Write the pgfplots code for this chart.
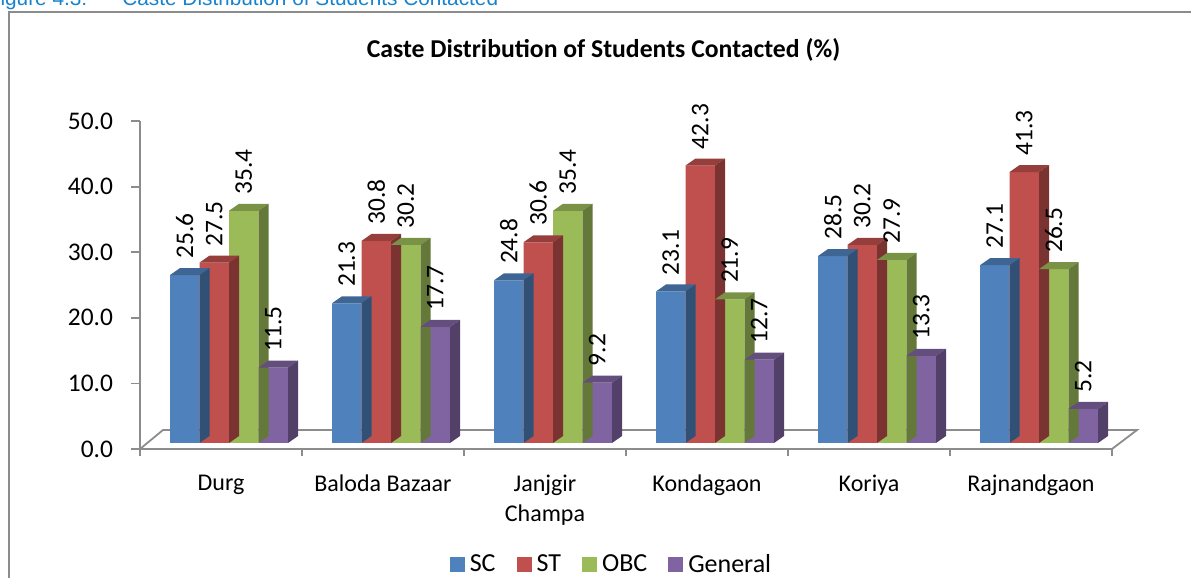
\documentclass[border=0pt]{standalone}
\usepackage{fontspec}
\setmainfont{Carlito}
\newfontfamily\arialfont{Liberation Sans}
\usepackage{pgfplots}
\pgfplotsset{compat=1.18}
\usepackage{pgfplotstable}

\definecolor{cSC}{HTML}{4F81BD}
\definecolor{cST}{HTML}{C0504D}
\definecolor{cOBC}{HTML}{9BBB59}
\definecolor{cGen}{HTML}{8064A2}
\definecolor{capblue}{RGB}{23,130,205}
\definecolor{axgray}{HTML}{8C8C8C}

\pgfplotstableread{
x SC ST OBC Gen
0 25.6 27.5 35.4 11.5
1 21.3 30.8 30.2 17.7
2 24.8 30.6 35.4 9.2
3 23.1 42.3 21.9 12.7
4 28.5 30.2 27.9 13.3
5 27.1 41.3 26.5 5.2
}\datatable

% top and side faces of a 3-D bar, drawn at the data point (top centre of the category)
\newcommand\declarebarmark[4]{%
  \pgfdeclareplotmark{#1}{%
    \pgfsetfillcolor{#3}%
    \pgfpathmoveto{\pgfpoint{#2-7.375bp}{0pt}}%
    \pgfpathlineto{\pgfpoint{#2+7.375bp}{0pt}}%
    \pgfpathlineto{\pgfpoint{#2+12.375bp}{3.5bp}}%
    \pgfpathlineto{\pgfpoint{#2-2.375bp}{3.5bp}}%
    \pgfpathclose
    \pgfusepath{fill}%
    \pgfsetfillcolor{#4}%
    \pgfpathmoveto{\pgfpoint{#2+7.375bp}{0pt}}%
    \pgfpathlineto{\pgfpoint{#2+12.375bp}{3.5bp}}%
    \pgfpathlineto{\pgfpoint{#2+12.375bp}{3.5bp-\barval*3.28bp}}%
    \pgfpathlineto{\pgfpoint{#2+7.375bp}{-\barval*3.28bp}}%
    \pgfpathclose
    \pgfusepath{fill}%
  }%
}
\declarebarmark{barSC}{-22.125bp}{cSC!78!black}{cSC!62!black}
\declarebarmark{barST}{-7.375bp}{cST!78!black}{cST!64!black}
\declarebarmark{barOBC}{7.375bp}{cOBC!78!black}{cOBC!64!black}
\declarebarmark{barGen}{22.125bp}{cGen!78!black}{cGen!64!black}

\begin{document}
\begin{tikzpicture}
\useasboundingbox (0,0) rectangle (595.5bp,289bp);
\clip (0,0) rectangle (595.5bp,289bp);
% caption above the frame
\node[anchor=base west, inner sep=0pt, text=capblue, font=\arialfont\fontsize{10.4bp}{12bp}\selectfont] at (-6.3bp,286.3bp) {Figure 4.3:};
\node[anchor=base west, inner sep=0pt, text=capblue, font=\arialfont\fontsize{10.4bp}{12bp}\selectfont] at (61bp,286.3bp) {Caste Distribution of Students Contacted};
% chart frame
\draw[axgray, line width=0.8bp] (4.4bp,-20bp) rectangle (620bp,283bp);
% title
\node[anchor=base, inner sep=0pt, font=\bfseries\fontsize{12.85bp}{15bp}\selectfont] at (301.75bp,260bp) {Caste Distribution of Students Contacted (\%)};

% front plane: axes, ticks, floor, legend
\begin{axis}[
  at={(70bp,64.5bp)}, anchor=south west,
  x=81bp, y=3.28bp,
  xmin=-0.5, xmax=5.5, ymin=0, ymax=50,
  axis x line*=bottom, axis y line*=left,
  axis line style={axgray, line width=0.9bp, -},
  tick style={axgray, line width=0.9bp},
  tick align=outside,
  major tick length=4.5bp, minor tick length=3.5bp,
  ytick={0,10,...,50},
  yticklabel={\fontsize{12.7bp}{15bp}\selectfont\pgfmathprintnumber[fixed,fixed zerofill,precision=1,assume math mode=true]{\tick}},
  /pgf/number format/assume math mode=true,
  y tick label style={font=\fontsize{12.7bp}{15bp}\selectfont, inner xsep=0pt, xshift=-8.8bp},
  xtick={0,...,5},
  major x tick style={draw=none},
  minor xtick={-0.5,0.5,...,5.5},
  xticklabels={Durg, Baloda Bazaar, {Janjgir\\Champa}, Kondagaon, Koriya, Rajnandgaon},
  x tick label style={font=\fontsize{12bp}{15bp}\selectfont, align=center, yshift=-5bp},
  clip=false,
  legend columns=4,
  legend image code/.code={\fill[#1] (0bp,-3.6bp) rectangle (7.5bp,3.9bp);},
  legend style={at={(0.4866,-0.3537)}, anchor=center, draw=none, fill=none,
    font=\fontsize{13bp}{15bp}\selectfont,
    /tikz/every even column/.append style={column sep=8bp},
    nodes={inner xsep=2.5bp, inner ysep=1bp}},
]
\draw[axgray, line width=0.9bp] (axis cs:-0.5,0) -- ++(11.5bp,9.5bp) -- ([shift={(12.5bp,9.5bp)}]axis cs:5.5,0) -- (axis cs:5.5,0);
\addlegendimage{fill=cSC, draw=none}
\addlegendentry{SC}
\addlegendimage{fill=cST, draw=none}
\addlegendentry{ST}
\addlegendimage{fill=cOBC, draw=none}
\addlegendentry{OBC}
\addlegendimage{fill=cGen, draw=none}
\addlegendentry{General}
\end{axis}

% bar plane (set back from the front plane)
\begin{axis}[
  at={(74bp,67.5bp)}, anchor=south west,
  x=81bp, y=3.28bp,
  xmin=-0.5, xmax=5.5, ymin=0, ymax=50,
  hide axis, clip=false,
  /pgf/number format/.cd, fixed, fixed zerofill, precision=1, assume math mode=true,
  /pgfplots/.cd,
  every node near coord/.append style={font=\fontsize{12.7bp}{15bp}\selectfont, inner xsep=8bp, inner ysep=0pt, text=black},
]
\addplot[ybar, bar width=14.75bp, bar shift=-22.125bp, fill=cSC, draw=none, nodes near coords,
  every node near coord/.append style={xshift=-22.125bp, rotate=90, anchor=west}] table[x=x, y=SC] {\datatable};
\addplot[only marks, mark=barSC, forget plot, visualization depends on={rawy \as \barval}] table[x=x, y=SC] {\datatable};
\addplot[ybar, bar width=14.75bp, bar shift=-7.375bp, fill=cST, draw=none, nodes near coords,
  every node near coord/.append style={xshift=-7.375bp, rotate=90, anchor=west}] table[x=x, y=ST] {\datatable};
\addplot[only marks, mark=barST, forget plot, visualization depends on={rawy \as \barval}] table[x=x, y=ST] {\datatable};
\addplot[ybar, bar width=14.75bp, bar shift=7.375bp, fill=cOBC, draw=none, nodes near coords,
  every node near coord/.append style={xshift=7.375bp, rotate=90, anchor=west}] table[x=x, y=OBC] {\datatable};
\addplot[only marks, mark=barOBC, forget plot, visualization depends on={rawy \as \barval}] table[x=x, y=OBC] {\datatable};
\addplot[ybar, bar width=14.75bp, bar shift=22.125bp, fill=cGen, draw=none, nodes near coords,
  every node near coord/.append style={xshift=22.125bp, rotate=90, anchor=west}] table[x=x, y=Gen] {\datatable};
\addplot[only marks, mark=barGen, forget plot, visualization depends on={rawy \as \barval}] table[x=x, y=Gen] {\datatable};
\end{axis}
\end{tikzpicture}
\end{document}
